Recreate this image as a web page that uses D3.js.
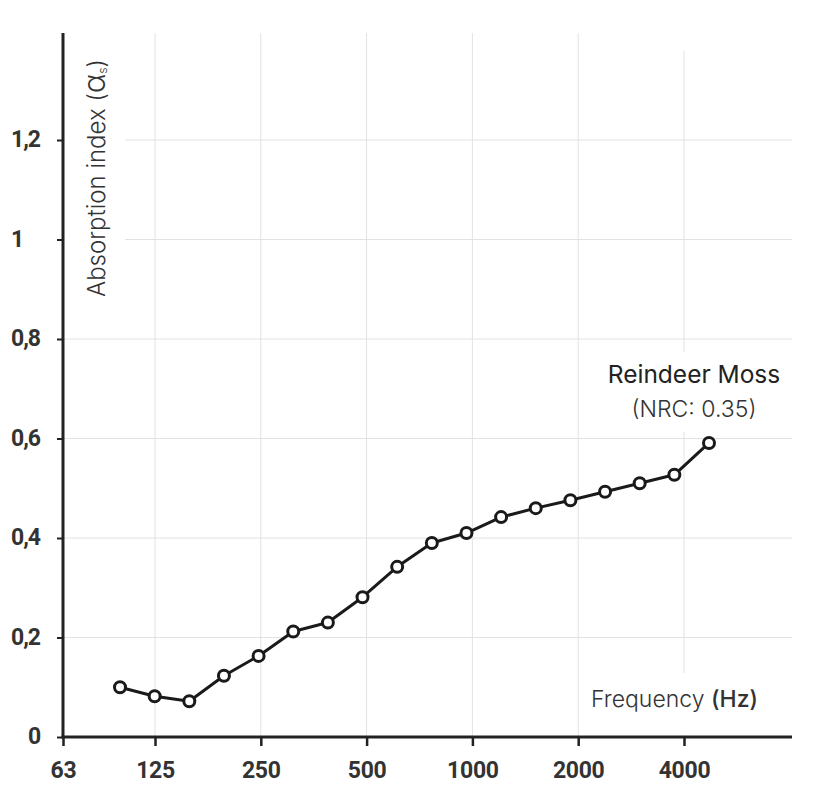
<!DOCTYPE html>
<html>
<head>
<meta charset="utf-8">
<script src="https://cdn.jsdelivr.net/npm/d3@7"></script>
<style>
  html, body { margin: 0; padding: 0; background: #fff; }
  svg { display: block; }
</style>
</head>
<body>
<svg id="chart" width="837" height="812"></svg>
<script>
// ---- data ----
const bandFreqs = ["100","125","160","200","250","315","400","500","630","800","1000","1250","1600","2000","2500","3150","4000","5000"];
const absorption = [0.10,0.082,0.072,0.123,0.163,0.212,0.230,0.281,0.342,0.390,0.410,0.442,0.460,0.476,0.493,0.510,0.527,0.591];
const xTickLabels = ["63","125","250","500","1000","2000","4000"];
const yTickValues = [0,0.2,0.4,0.6,0.8,1,1.2];
const yTickLabels = ["0","0,2","0,4","0,6","0,8","1","1,2"];
const seriesName = "Reindeer Moss";
const seriesNote = "(NRC: 0.35)";

// ---- layout ----
const svg = d3.select("#chart");
const plotL = 63, plotR = 792, plotB = 737, plotT = 33;
const ink = "#222";
const gridCol = "#e2e2e2";
const tickFont = "Roboto, 'DejaVu Sans', sans-serif";
const textFont = "Inter, Roboto, sans-serif";

// y scale
const y = d3.scaleLinear().domain([0, 1]).range([plotB, 239.5]);
// octave tick scale (piecewise: 63 at axis origin, then octaves)
const xOct = d3.scaleLinear().domain([-1, 0, 5]).range([plotL, 155, 684]);
// third-octave band scale for the data points
const xBand = d3.scalePoint().domain(bandFreqs).range([120, 709]);

// ---- grid ----
const g = svg.append("g");
g.selectAll("line.hgrid").data(yTickValues.filter(v => v > 0)).enter().append("line")
  .attr("x1", plotL).attr("x2", plotR)
  .attr("y1", d => y(d)).attr("y2", d => y(d))
  .attr("stroke", gridCol).attr("stroke-width", 1);
g.selectAll("line.vgrid").data(d3.range(0, 6)).enter().append("line")
  .attr("x1", d => xOct(d)).attr("x2", d => xOct(d))
  .attr("y1", plotT).attr("y2", plotB)
  .attr("stroke", gridCol).attr("stroke-width", 1);

// white boxes behind labels (mask grid)
g.append("rect").attr("x", plotL + 2).attr("y", plotT - 2).attr("width", 60).attr("height", 280).attr("fill", "#fff");
g.append("rect").attr("x", 600).attr("y", plotT - 2).attr("width", 192).attr("height", 20).attr("fill", "#fff");
g.append("rect").attr("x", 590).attr("y", 352).attr("width", 202).attr("height", 80).attr("fill", "#fff");
g.append("rect").attr("x", 581).attr("y", 673).attr("width", 211).attr("height", 62).attr("fill", "#fff");

// ---- axes ----
const yAxis = d3.axisLeft(y).tickValues(yTickValues)
  .tickFormat((d, i) => yTickLabels[i]).tickSize(6).tickPadding(0);
const yg = svg.append("g").attr("transform", `translate(${plotL},0)`).call(yAxis);
yg.select(".domain").remove();
yg.selectAll(".tick line").attr("stroke", ink).attr("stroke-width", 2);
yg.selectAll(".tick text")
  .attr("x", -52).attr("text-anchor", "start").attr("dy", "0.3em")
  .attr("fill", "#333").attr("font-family", tickFont).attr("font-weight", 700)
  .attr("font-size", 23).attr("letter-spacing", -1)
  .filter(d => d === 0).attr("x", -35);

const xAxis = d3.axisBottom(xOct).tickValues(d3.range(-1, 6))
  .tickFormat((d, i) => xTickLabels[i]).tickSize(9).tickPadding(16);
const xg = svg.append("g").attr("transform", `translate(0,${plotB})`).call(xAxis);
xg.select(".domain").remove();
xg.selectAll(".tick line").attr("stroke", ink).attr("stroke-width", 2.5);
xg.selectAll(".tick text")
  .attr("fill", "#333").attr("font-family", tickFont).attr("font-weight", 700)
  .attr("font-size", 23).attr("letter-spacing", -0.3);

// axis lines
svg.append("line").attr("x1", plotL).attr("x2", plotL).attr("y1", plotT).attr("y2", plotB + 1.5)
  .attr("stroke", ink).attr("stroke-width", 3);
svg.append("line").attr("x1", plotL - 1.5).attr("x2", plotR).attr("y1", plotB).attr("y2", plotB)
  .attr("stroke", ink).attr("stroke-width", 3);

// ---- axis titles ----
const yt = svg.append("text")
  .attr("transform", `translate(105,297) rotate(-90)`)
  .attr("font-family", textFont).attr("font-weight", 300).attr("font-size", 24)
  .attr("fill", "#333");
yt.append("tspan").text("Absorption index (");
yt.append("tspan").text("α").attr("font-size", 30);
yt.append("tspan").text("s").attr("font-size", 12).attr("dy", 2);
yt.append("tspan").text(")").attr("dy", -2);

const xt = svg.append("text").attr("x", 758).attr("y", 707).attr("text-anchor", "end")
  .attr("font-family", textFont).attr("font-size", 23).attr("fill", "#333");
xt.append("tspan").text("Frequency ").attr("font-weight", 300);
xt.append("tspan").text("(Hz)").attr("font-weight", 500);

// ---- series ----
const line = d3.line().x((d, i) => xBand(bandFreqs[i])).y(d => y(d));
svg.append("path").datum(absorption).attr("d", line)
  .attr("fill", "none").attr("stroke", "#1a1a1a").attr("stroke-width", 3)
  .attr("stroke-linejoin", "round");
svg.selectAll("circle.pt").data(absorption).enter().append("circle")
  .attr("cx", (d, i) => xBand(bandFreqs[i])).attr("cy", d => y(d))
  .attr("r", 5.5).attr("fill", "#fff").attr("stroke", "#1a1a1a").attr("stroke-width", 3);

// ---- series label ----
svg.append("text").attr("x", 694).attr("y", 383).attr("text-anchor", "middle")
  .attr("font-family", textFont).attr("font-weight", 400).attr("font-size", 24.5)
  .attr("fill", "#222").text(seriesName);
svg.append("text").attr("x", 694).attr("y", 417).attr("text-anchor", "middle")
  .attr("font-family", textFont).attr("font-weight", 300).attr("font-size", 23)
  .attr("fill", "#333").text(seriesNote);
</script>
</body>
</html>
